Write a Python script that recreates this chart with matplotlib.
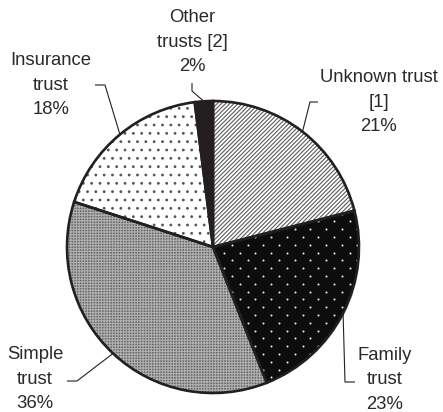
import numpy as np
import matplotlib.pyplot as plt

# ----------------------------
# Data
# ----------------------------
labels = ["Unknown trust\n[1]", "Family\ntrust", "Simple\ntrust",
          "Insurance\ntrust", "Other\ntrusts [2]"]
shares = [21, 23, 36, 18, 2]

# ----------------------------
# Styling
# ----------------------------
W, H = 443, 412
ink = "#231f20"
face_colors = ["white", "#0d0d0d", "#666666", "white", "#231f20"]
hatches = ["////////", "", "++++++", "..", ""]
hatch_colors = ["#5a5a5a", "white", "#b0b0b0", "#555555", "#231f20"]

center = (213, H - 247)
radius = 146

# label centre, elbow point, leader end (pixels, y measured from top)
label_pos = [(379, 102), (385, 380), (35, 379), (51, 85), (192, 42)]
elbows = [(310, 102), (345, 382), (77, 381), (105, 85), (192, 91)]
ends = [(318, 102), (355, 382), (67, 381), (95, 85), (192, 83)]

plt.rcParams['font.family'] = ['Liberation Sans', 'DejaVu Sans']
plt.rcParams['hatch.linewidth'] = 0.8

fig = plt.figure(figsize=(W / 100, H / 100), dpi=100)
ax = fig.add_axes([0, 0, 1, 1])

common = dict(startangle=90, counterclock=False, center=center, radius=radius)

# base fills
wedges, _ = ax.pie(shares, colors=face_colors,
                   wedgeprops=dict(linewidth=0), **common)
# hatch layer (hatch colour follows edgecolor)
hw, _ = ax.pie(shares, wedgeprops=dict(linewidth=0, facecolor="none"), **common)
for w, h, c in zip(hw, hatches, hatch_colors):
    w.set_hatch(h)
    w.set_edgecolor(c)

# fine white dot texture for the "Family" slice (diamond lattice)
step_x, step_y = 15.7, 7.8
gy = np.arange(center[1] - radius, center[1] + radius, step_y)
dots = []
for i, yy in enumerate(gy):
    off = 0 if i % 2 == 0 else step_x / 2
    for xx in np.arange(center[0] - radius + off, center[0] + radius, step_x):
        dots.append((xx, yy))
dots = np.array(dots)
sc = ax.scatter(dots[:, 0], dots[:, 1], s=2.2, color="#e6e6e6", linewidths=0)
sc.set_clip_path(wedges[1])

# outlines
ax.pie(shares, wedgeprops=dict(linewidth=1.9, edgecolor=ink, facecolor="none"),
       **common)

# labels and leader lines
for w, lab, val, pos, el, en in zip(wedges, labels, shares, label_pos, elbows, ends):
    mid = np.deg2rad((w.theta1 + w.theta2) / 2)
    ex = center[0] + radius * np.cos(mid)
    ey = center[1] + radius * np.sin(mid)
    ax.plot([ex, el[0], en[0]], [ey, H - el[1], H - en[1]],
            color=ink, lw=0.8, solid_capstyle="butt")
    ax.text(pos[0], H - pos[1], f"{lab}\n{val}%", ha="center", va="center",
            multialignment="center", fontsize=13.3, color="#2a2a2a",
            linespacing=1.55)

ax.set_xlim(0, W)
ax.set_ylim(0, H)
ax.set_aspect("equal")
ax.axis("off")

fig.savefig("out.png", dpi=100)
